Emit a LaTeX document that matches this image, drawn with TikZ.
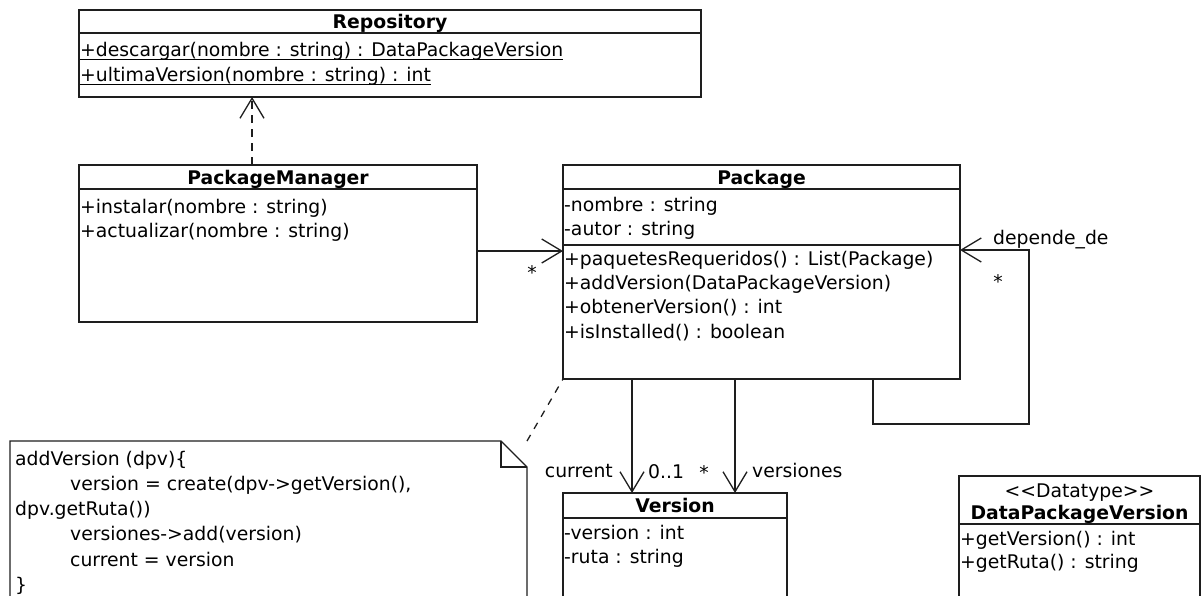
\documentclass[tikz,border=0pt]{standalone}
\usepackage{fontspec}
\setmainfont{DejaVu Sans}[Ligatures=TeXOff]
\usetikzlibrary{arrows.meta}
\usetikzlibrary{positioning}
\definecolor{umlline}{RGB}{30, 30, 30}
\newlength{\umlwidth}
\setlength{\umlwidth}{1.3pt}
\newcommand{\umlfont}{\fontsize{18.8}{25}\selectfont}
\newcommand{\staticop}[1]{\setbox0=\hbox{#1}\rlap{\vrule height -3.2pt depth 4.4pt width \wd0}\box0}

\tikzset{
  classbox/.style={rectangle, draw=umlline, line width=\umlwidth, anchor=north west, inner sep=0pt, outer sep=0pt},
  divider/.style={draw=umlline, line width=\umlwidth},
  classname/.style={anchor=base, inner sep=0pt, font=\umlfont\bfseries},
  oprow/.style={anchor=base west, inner sep=0pt},
  mult/.style={anchor=base, inner sep=0pt},
  assoc/.style={draw=umlline, line width=\umlwidth, -{Straight Barb[length=20pt, width=24pt]}},
  depend/.style={assoc, dash pattern=on 8pt off 6pt},
  notelink/.style={draw=umlline, line width=\umlwidth, dash pattern=on 7pt off 7pt},
}

\begin{document}
\begin{tikzpicture}[x=1pt, y=-1pt, font=\umlfont]

\path[use as bounding box, fill=white] (0,0) rectangle (1202,595);

% Repository
\node[classbox, minimum width=622pt, minimum height=87pt](repo) at (79,10) {};
\draw[divider] ([yshift=-23pt]repo.north west) -- ([yshift=-23pt]repo.north east);
\node[classname](reponame) at (390,28) {Repository};
\node[oprow](repoop1) at (80,56) {\staticop{+descargar(nombre : string) : DataPackageVersion}};
\node[oprow](repoop2) at (80,81) {\staticop{+ultimaVersion(nombre : string) : int}};

% PackageManager
\node[classbox, minimum width=398pt, minimum height=157pt](mgr) at (79,165) {};
\draw[divider] ([yshift=-24pt]mgr.north west) -- ([yshift=-24pt]mgr.north east);
\node[classname](mgrname) at (278,184) {PackageManager};
\node[oprow](mgrop1) at (80,213) {+instalar(nombre : string)};
\node[oprow](mgrop2) at (80,237) {+actualizar(nombre : string)};

% Package
\node[classbox, minimum width=397pt, minimum height=214pt](pkg) at (563,165) {};
\draw[divider] ([yshift=-24pt]pkg.north west) -- ([yshift=-24pt]pkg.north east);
\draw[divider] ([yshift=-80pt]pkg.north west) -- ([yshift=-80pt]pkg.north east);
\node[classname](pkgname) at (761.5,184) {Package};
\node[oprow](pkgattr1) at (564,211) {-nombre : string};
\node[oprow](pkgattr2) at (564,235) {-autor : string};
\node[oprow](pkgop1) at (564,265) {+paquetesRequeridos() : List(Package)};
\node[oprow](pkgop2) at (564,289) {+addVersion(DataPackageVersion)};
\node[oprow](pkgop3) at (564,313) {+obtenerVersion() : int};
\node[oprow](pkgop4) at (564,338) {+isInstalled() : boolean};

% Version
\node[classbox, minimum width=224pt, minimum height=150pt](ver) at (563,493) {};
\draw[divider] ([yshift=-25pt]ver.north west) -- ([yshift=-25pt]ver.north east);
\node[classname](vername) at (675,512.5) {Version};
\node[oprow](verattr1) at (564,539) {-version : int};
\node[oprow](verattr2) at (564,563) {-ruta : string};

% DataPackageVersion
\node[classbox, minimum width=241pt, minimum height=150pt](dpv) at (959,476) {};
\draw[divider] ([yshift=-48pt]dpv.north west) -- ([yshift=-48pt]dpv.north east);
\node[mult](dpvtype) at (1079.5,497) {<<Datatype>>};
\node[classname](dpvname) at (1079.5,519) {DataPackageVersion};
\node[oprow](dpvop1) at (960,545) {+getVersion() : int};
\node[oprow](dpvop2) at (960,568) {+getRuta() : string};

% note
\node[inner sep=0pt, outer sep=0pt, minimum width=517pt, minimum height=200pt, anchor=north west](note) at (10,441) {};
\draw[divider] (note.south west) -- (note.north west) -- ([xshift=-26pt]note.north east) -- ([yshift=-26pt]note.north east) -- (note.south east);
\draw[divider] ([xshift=-26pt]note.north east) |- ([yshift=-26pt]note.north east);
\node[oprow](code1) at (15,465) {addVersion (dpv)\{};
\node[oprow](code2) at (70,490.3) {version = create(dpv->getVersion(),};
\node[oprow](code3) at (15,515.6) {dpv.getRuta())};
\node[oprow](code4) at (70,540.9) {versiones->add(version)};
\node[oprow](code5) at (70,566.2) {current = version};
\node[oprow](code6) at (15,591.5) {\}};

% connectors
\coordinate (deptail) at ([xshift=173pt]mgr.north west);
\draw[depend] (deptail) -- (deptail |- repo.south);

\coordinate (mgrout) at ([yshift=-7.5pt]mgr.east);
\draw[assoc] (mgrout) -- (mgrout -| pkg.west);
\node[mult](mgrmult) at (532,279) {*};

\coordinate (loopstart) at ([xshift=-87pt]pkg.south east);
\coordinate (loopcorner) at (1029,424);
\coordinate (loopin) at ([yshift=22pt]pkg.east);
\draw[assoc] (loopstart) |- (loopcorner) |- (loopin);
\node[mult, anchor=base west](deplabel) at (993,244) {depende\_de};
\node[mult](depmult) at (998,288) {*};

\coordinate (curin) at ([xshift=69pt]ver.north west);
\coordinate (versin) at ([xshift=172pt]ver.north west);
\draw[assoc] (curin |- pkg.south) -- (curin);
\draw[assoc] (versin |- pkg.south) -- (versin);
\node[mult, anchor=base east](curlabel) at (613,477) {current};
\node[mult, anchor=base west](curmult) at (648,478) {0..1};
\node[mult](versmult) at (704,479) {*};
\node[mult, anchor=base west](verslabel) at (752,477) {versiones};

\draw[notelink] (note.north east) -- (pkg.south west);

\end{tikzpicture}
\end{document}
